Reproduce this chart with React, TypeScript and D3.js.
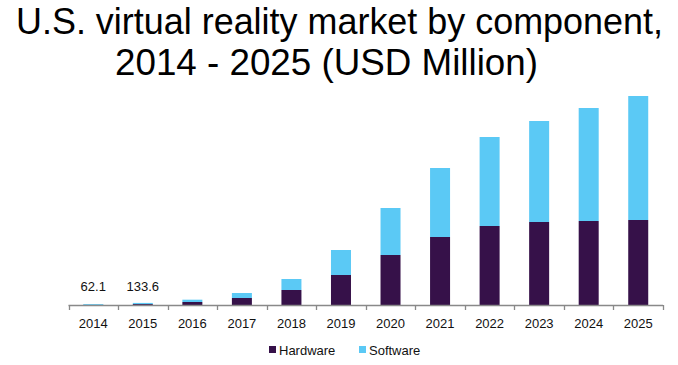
import * as d3 from "d3";
import { useEffect, useRef } from "react";

const years = ["2014", "2015", "2016", "2017", "2018", "2019", "2020", "2021", "2022", "2023", "2024", "2025"];
const hardware = [10, 60, 192, 448, 960, 1920, 3200, 4352, 5056, 5312, 5376, 5440];
const software = [52.1, 73.6, 148, 320, 704, 1600, 3008, 4416, 5696, 6464, 7232, 7936];
const totalLabels = ["62.1", "133.6"];
const seriesNames = ["Hardware", "Software"];
const seriesColors = ["#361149", "#5bc9f5"];

const W = 678;
const H = 365;
const margin = { left: 68.5, right: 15, baseline: 305 };
const font = "Arial, 'Liberation Sans', sans-serif";

function AxisBottom({ scale }) {
  const ref = useRef(null);

  useEffect(() => {
    if (ref.current) {
      const g = d3.select(ref.current);
      g.selectAll("*").remove();
      const [x0, x1] = scale.range();
      g.append("line")
        .attr("x1", x0).attr("x2", x1)
        .attr("y1", 0.5).attr("y2", 0.5)
        .attr("stroke", "#898989").attr("stroke-width", 1.3);
      const edges = scale.domain().map(d => scale(d));
      edges.push(x1);
      g.selectAll(".tick").data(edges).join("line")
        .attr("class", "tick")
        .attr("x1", d => Math.round(d) + 0.5).attr("x2", d => Math.round(d) + 0.5)
        .attr("y1", 0).attr("y2", 5)
        .attr("stroke", "#898989").attr("stroke-width", 1.3);
      g.selectAll(".lbl").data(scale.domain()).join("text")
        .attr("class", "lbl")
        .attr("x", d => scale(d) + scale.bandwidth() / 2)
        .attr("y", 23)
        .attr("text-anchor", "middle")
        .attr("font-family", font)
        .attr("font-size", 13)
        .attr("fill", "#111")
        .text(d => d);
    }
  }, [ref, scale]);

  return <g ref={ref} transform={`translate(0, ${margin.baseline})`} />;
}

export default function App() {
  const scaleX = d3.scaleBand()
    .domain(years)
    .range([margin.left, W - margin.right])
    .padding(0);
  const maxTotal = d3.max(years.map((_, i) => hardware[i] + software[i]));
  const scaleY = d3.scaleLinear()
    .domain([0, maxTotal])
    .range([margin.baseline, margin.baseline - maxTotal / 64]);

  const rows = years.map((y, i) => ({ year: y, Hardware: hardware[i], Software: software[i] }));
  const stacked = d3.stack().keys(seriesNames)(rows);
  const barW = 20;

  return (
    <svg width={W} height={H} style={{ position: "absolute", left: 0, top: 0 }}>
      <rect width={W} height={H} fill="#fff" />
      <text x={16} y={33.5} fontFamily={font} fontSize={37} fill="#000"
        textLength={647} lengthAdjust="spacingAndGlyphs">
        U.S. virtual reality market by component,
      </text>
      <text x={115} y={75} fontFamily={font} fontSize={37} fill="#000"
        textLength={423} lengthAdjust="spacingAndGlyphs">
        2014 - 2025 (USD Million)
      </text>
      {stacked.map((s, si) => (
        <g key={s.key} fill={seriesColors[si]}>
          {s.map(d => (
            <rect
              key={d.data.year}
              x={scaleX(d.data.year) + scaleX.bandwidth() / 2 - barW / 2}
              y={scaleY(d[1])}
              width={barW}
              height={scaleY(d[0]) - scaleY(d[1])}
            />
          ))}
        </g>
      ))}
      {totalLabels.map((t, i) => (
        <text
          key={t}
          x={scaleX(years[i]) + scaleX.bandwidth() / 2}
          y={290.5}
          textAnchor="middle"
          fontFamily={font}
          fontSize={13}
          fill="#111"
        >
          {t}
        </text>
      ))}
      <AxisBottom scale={scaleX} />
      <g fontFamily={font} fontSize={13} fill="#111">
        {seriesNames.map((n, i) => (
          <g key={n} transform={`translate(${269 + i * 90}, 346)`}>
            <rect width={7} height={7} fill={seriesColors[i]} />
            <text x={10} y={8.5}>{n}</text>
          </g>
        ))}
      </g>
    </svg>
  );
}
